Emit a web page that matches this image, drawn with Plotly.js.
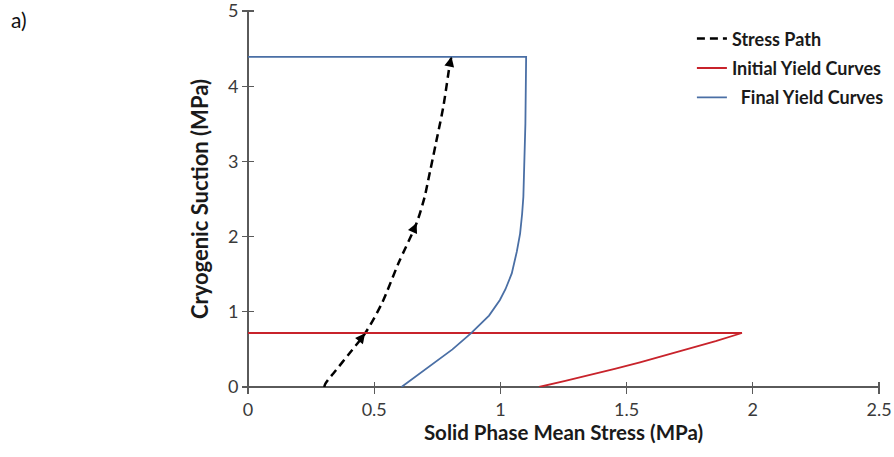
<!DOCTYPE html>
<html>
<head>
<meta charset="utf-8">
<script src="https://cdn.plot.ly/plotly-3.0.1.min.js"></script>
<style>html,body{margin:0;padding:0;background:#fff;}#chart{width:894px;height:457px;}</style>
</head>
<body>
<div id="chart"></div>
<script>
// Stress path (dashed, black)
const pathX = [0.302, 0.306, 0.318, 0.338, 0.40, 0.464, 0.53, 0.596, 0.668, 0.70, 0.714, 0.745, 0.774, 0.80, 0.806];
const pathY = [0.0, 0.04, 0.10, 0.18, 0.44, 0.714, 1.11, 1.645, 2.18, 2.53, 2.75, 3.25, 3.73, 4.30, 4.39];
// indices of path points where arrowheads sit
const arrowIdx = [5, 8, 14];

// Initial yield curve (red)
const initX = [0, 1.957, 1.853, 1.753, 1.653, 1.553, 1.453, 1.353, 1.253, 1.153];
const initY = [0.718, 0.718, 0.610, 0.514, 0.418, 0.328, 0.241, 0.157, 0.077, 0];

// Final yield curve (blue)
const finalX = [0, 1.102, 1.099, 1.096, 1.091, 1.086, 1.078, 1.065, 1.045, 1.02, 0.998, 0.955, 0.883, 0.81, 0.734, 0.67, 0.608];
const finalY = [4.39, 4.39, 3.5, 3.0, 2.53, 2.3, 2.04, 1.8, 1.51, 1.3, 1.157, 0.95, 0.714, 0.5, 0.315, 0.15, 0];

const xTicks = [0, 0.5, 1, 1.5, 2, 2.5];
const xTickText = ['0', '0.5', '1', '1.5', '2', '2.5'];
const yTicks = [0, 1, 2, 3, 4, 5];

const seriesNames = ['<b>Stress Path</b>', '<b>Initial Yield Curves</b>', '<b>\u00a0\u00a0Final Yield Curves</b>'];

const FONT = 'Lato, "Open Sans", sans-serif';
const AX = '#5a5a5a';
const W = 894, H = 457, M = {l: 248, r: 15, t: 11, b: 70};
const xRange = [0, 2.5], yRange = [0, 5];

const traces = [
  {x: pathX, y: pathY, mode: 'lines', name: seriesNames[0], legendgroup: 'a',
   line: {color: '#000', width: 2.5, dash: '8px,5px', shape: 'spline', smoothing: 0.8}},
  {x: initX, y: initY, mode: 'lines', name: seriesNames[1], legendgroup: 'b',
   line: {color: '#C8232B', width: 1.8}},
  {x: finalX, y: finalY, mode: 'lines', name: seriesNames[2], legendgroup: 'c',
   line: {color: '#4A6FA5', width: 1.8}}
];

// arrowheads along the stress path: direction taken from the path itself,
// with a very short shaft so the dashes stay visible
const pxX = (W - M.l - M.r) / (xRange[1] - xRange[0]);
const pxY = (H - M.t - M.b) / (yRange[1] - yRange[0]);
const annotations = arrowIdx.map(i => {
  const dx = (pathX[i] - pathX[i - 1]) * pxX, dy = (pathY[i] - pathY[i - 1]) * pxY;
  const len = Math.hypot(dx, dy), shaft = 5;
  return {
    x: pathX[i], y: pathY[i], xref: 'x', yref: 'y',
    ax: -dx / len * shaft, ay: dy / len * shaft,
    showarrow: true, arrowhead: 2, arrowsize: 1.1, arrowwidth: 1.8, arrowcolor: '#000', text: ''
  };
});
annotations.push({
  text: 'a)', xref: 'paper', yref: 'paper', x: -0.378, y: 1.015, xanchor: 'left', yanchor: 'top',
  showarrow: false, font: {family: FONT, size: 21, color: '#111'}
});

// Axes: the tick marks cross the axis lines, so each axis is placed 6px inside
// the plot with 12px outside ticks; the axis lines themselves are the zero lines.
const axisCommon = {
  showgrid: false, showline: false, anchor: 'free',
  zeroline: true, zerolinecolor: AX, zerolinewidth: 1.3,
  ticks: 'outside', ticklen: 12, tickwidth: 1.3, tickcolor: AX, automargin: false,
  ticklabeloverflow: 'allow',
  tickfont: {family: FONT, size: 18, color: '#3a3a3a'}
};

const layout = {
  width: W, height: H,
  margin: {l: M.l, r: M.r, t: M.t, b: M.b, autoexpand: false},
  paper_bgcolor: '#fff', plot_bgcolor: '#fff',
  font: {family: FONT},
  xaxis: Object.assign({}, axisCommon, {
    range: xRange, tickvals: xTicks, ticktext: xTickText, position: 6 / (H - M.t - M.b),
    title: {text: '<b>Solid Phase Mean Stress (MPa)</b>', font: {family: FONT, size: 20.5, color: '#1a1a1a'}, standoff: 6}
  }),
  yaxis: Object.assign({}, axisCommon, {
    range: yRange, tickvals: yTicks, position: 6 / (W - M.l - M.r),
    title: {text: '<b>Cryogenic Suction (MPa)</b>', font: {family: FONT, size: 22, color: '#1a1a1a'}, standoff: 12}
  }),
  showlegend: true,
  legend: {x: 0.7035, y: 0.975, xanchor: 'left', yanchor: 'top', bgcolor: 'rgba(0,0,0,0)',
    tracegroupgap: 3, font: {family: FONT, size: 18, color: '#1a1a1a'}},
  annotations: annotations
};

Plotly.newPlot('chart', traces, layout, {displayModeBar: false, staticPlot: true});
</script>
</body>
</html>
